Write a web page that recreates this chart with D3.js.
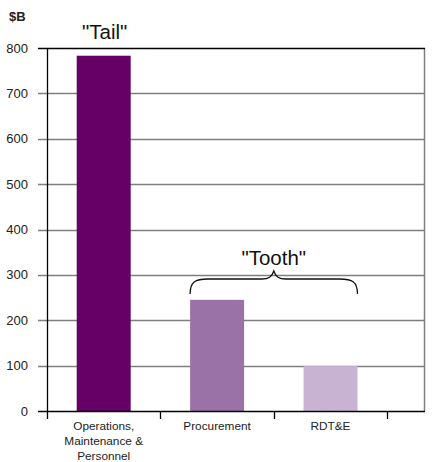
<!DOCTYPE html>
<html>
<head>
<meta charset="utf-8">
<script src="https://cdn.jsdelivr.net/npm/d3@7"></script>
<style>
  html, body { margin: 0; padding: 0; background: #fff; }
  svg text { font-family: "Liberation Sans", Arial, sans-serif; }
</style>
</head>
<body>
<svg id="chart" width="432" height="462"></svg>
<script>
const categories = ["Operations,\nMaintenance &\nPersonnel", "Procurement", "RDT&E"];
const values = [783, 245, 99];
const colors = ["#660066", "#9b72a8", "#c9b3d3"];
const yTicks = [0, 100, 200, 300, 400, 500, 600, 700, 800];
const unitLabel = "$B";
const tailLabel = "\"Tail\"";
const toothLabel = "\"Tooth\"";

(function () {
const svg = d3.select("#chart");
const pLeft = 47, pRight = 425, pTop = 48, pBottom = 411;
const step = 113.4;

const x = d3.scaleBand().domain(categories)
  .range([pLeft, pLeft + step * categories.length])
  .paddingInner(0.524).paddingOuter(0.262);
const y = d3.scaleLinear().domain([0, 800]).range([pBottom, pTop]);

// gridlines
svg.append("g").selectAll("line").data(yTicks.filter(t => t > 0 && t < 800)).join("line")
  .attr("x1", 38).attr("x2", pRight)
  .attr("y1", d => Math.round(y(d)) + 0.5).attr("y2", d => Math.round(y(d)) + 0.5)
  .attr("stroke", "#7f7f7f").attr("stroke-width", 1.3);

// right border
svg.append("line").attr("x1", pRight - 0.5).attr("x2", pRight - 0.5)
  .attr("y1", y(800)).attr("y2", y(0)).attr("stroke", "#7f7f7f").attr("stroke-width", 1.5);

// bars
svg.append("g").selectAll("rect").data(categories).join("rect")
  .attr("x", d => x(d)).attr("width", x.bandwidth())
  .attr("y", (d, i) => y(values[i]))
  .attr("height", (d, i) => y(0) - y(values[i]))
  .attr("fill", (d, i) => colors[i]);

// top line
svg.append("line").attr("x1", 38).attr("x2", pRight)
  .attr("y1", Math.round(y(800)) + 0.5).attr("y2", Math.round(y(800)) + 0.5)
  .attr("stroke", "#000").attr("stroke-width", 1.3);

// bottom axis line
svg.append("line").attr("x1", 38).attr("x2", pRight)
  .attr("y1", Math.round(y(0)) + 0.5).attr("y2", Math.round(y(0)) + 0.5)
  .attr("stroke", "#000").attr("stroke-width", 1.3);

// left axis
svg.append("line").attr("x1", pLeft + 0.5).attr("x2", pLeft + 0.5)
  .attr("y1", y(800)).attr("y2", pBottom + 8)
  .attr("stroke", "#000").attr("stroke-width", 1.3);

// x ticks at band boundaries
const bounds = categories.map(c => x(c) - x.step() * x.paddingInner() / 2);
bounds.push(bounds[bounds.length - 1] + x.step());
svg.append("g").selectAll("line").data(bounds.slice(1)).join("line")
  .attr("x1", d => Math.round(d) + 0.5).attr("x2", d => Math.round(d) + 0.5)
  .attr("y1", pBottom).attr("y2", pBottom + 8)
  .attr("stroke", "#000").attr("stroke-width", 1.3);

// y tick labels
svg.append("g").selectAll("text").data(yTicks).join("text")
  .attr("x", 28).attr("y", d => y(d) + 4.5)
  .attr("text-anchor", "end").attr("font-size", 13).attr("fill", "#222")
  .text(d => d);

// category labels
categories.forEach(c => {
  const t = svg.append("text").attr("text-anchor", "middle")
    .attr("font-size", 11.8).attr("fill", "#222");
  c.split("\n").forEach((line, i) => {
    t.append("tspan").attr("x", x(c) + x.bandwidth() / 2).attr("y", 430 + i * 14.8).text(line);
  });
});

// unit label
svg.append("text").attr("x", 9).attr("y", 20.5).attr("font-size", 13)
  .attr("font-weight", "bold").attr("fill", "#222").text(unitLabel);

// Tail label
svg.append("text").attr("x", x(categories[0]) + x.bandwidth() / 2 + 1).attr("y", 38.5)
  .attr("text-anchor", "middle").attr("font-size", 20.5).attr("fill", "#111").text(tailLabel);

// brace
const bx0 = x(categories[1]), bx1 = x(categories[2]) + x.bandwidth();
const bm = (bx0 + bx1) / 2;
const yEnd = 294, yMid = 279, yTip = 271;
const bp = d3.path();
bp.moveTo(bx0, yEnd);
bp.bezierCurveTo(bx0, yMid + 3, bx0 + 5, yMid, bx0 + 18, yMid);
bp.lineTo(bm - 12, yMid);
bp.bezierCurveTo(bm - 5, yMid, bm - 2, yMid - 2, bm, yTip);
bp.bezierCurveTo(bm + 2, yMid - 2, bm + 5, yMid, bm + 12, yMid);
bp.lineTo(bx1 - 18, yMid);
bp.bezierCurveTo(bx1 - 5, yMid, bx1, yMid + 3, bx1, yEnd);
svg.append("path").attr("d", bp.toString()).attr("fill", "none")
  .attr("stroke", "#111").attr("stroke-width", 1.3);

// Tooth label
svg.append("text").attr("x", bm).attr("y", 265)
  .attr("text-anchor", "middle").attr("font-size", 20.5).attr("fill", "#111").text(toothLabel);
})();
</script>
</body>
</html>
